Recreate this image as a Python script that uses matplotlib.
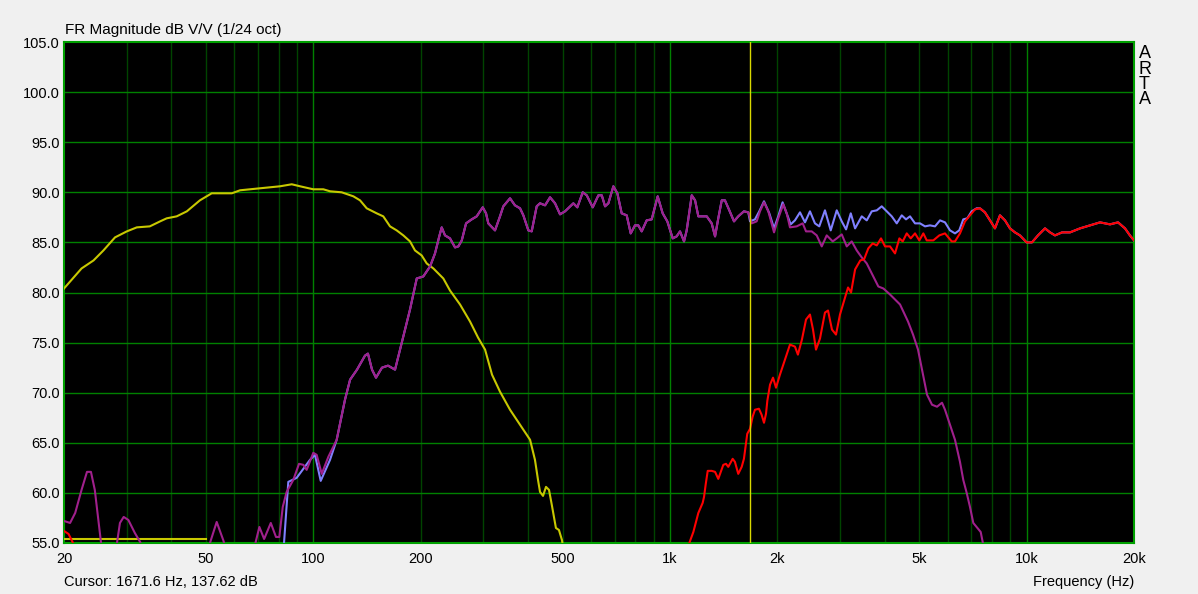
import numpy as np
import matplotlib
matplotlib.use('Agg')
import matplotlib.pyplot as plt

plt.rcParams['font.family'] = ['Liberation Sans', 'DejaVu Sans']

# woofer response (yellow)
woofer_f = [20, 22.4, 24.2, 25.8, 27.8, 30.0, 32.0, 34.8, 37.2, 38.8, 41.4, 44.2, 48.1, 51.9,
            59.1, 62.3, 70.9, 80.7, 87.0, 91.8, 100, 106.7, 111.4, 120.1, 129.5, 135.2, 141.2,
            150.6, 157.1, 164.1, 171.3, 178.8, 186.7, 192.8, 201.3, 208.0, 217.1, 224.2, 231.5,
            241.7, 257.9, 275.1, 289.7, 303.1, 317.0, 333.8, 356.1, 379.9, 405.3, 418.3, 426.6,
            432.2, 440.6, 449.2, 458.0, 466.9, 478.9, 488.3, 497.9, 510]
woofer_db = [80.4, 82.4, 83.2, 84.2, 85.5, 86.1, 86.5, 86.6, 87.1, 87.4, 87.6, 88.1, 89.2, 89.9,
             89.9, 90.2, 90.4, 90.6, 90.8, 90.6, 90.3, 90.3, 90.1, 90.0, 89.6, 89.2, 88.4,
             87.9, 87.6, 86.6, 86.2, 85.7, 85.1, 84.2, 83.7, 82.9, 82.4, 81.9, 81.4,
             80.2, 78.8, 77.1, 75.5, 74.3, 71.8, 70.1, 68.3, 66.8, 65.3, 63.3, 61.3,
             60.1, 59.7, 60.6, 60.3, 58.7, 56.5, 56.3, 55.3, 53.0]
woofer_floor_f = [20, 50]
woofer_floor_db = [55.4, 55.4]

# midrange response (purple)
mid_f = [20.0, 20.8, 21.5, 22.4, 23.2, 23.8, 24.4, 25.5, 26.8, 28.1, 28.7, 29.4, 30.3, 31.6,
         32.7, 34.0, 39.6, 51.1, 53.6, 55.9, 58.5, 62.3, 68.6, 70.6, 72.8, 76.0, 78.6, 80.3,
         82.1, 84.2, 87.9, 91.2, 93.8, 95.8, 100, 102.2, 105.6, 110.2, 116.3, 118.8, 122.7,
         126.8, 132.6, 139.6, 142.3, 146.1, 149.9, 155.8, 162.0, 169.5, 175.1, 180.8, 186.7,
         195.0, 203.4, 212.5, 219.4, 225.5, 229.1, 234.0, 241.7, 249.7, 255.1, 260.8, 268.1,
         278.1, 287.2, 292.1, 298.6, 305.0, 309.5, 323.2, 333.8, 341.0, 356.1, 367.6, 379.9,
         388.1, 400.8, 409.6, 423.0, 432.2, 446.5, 461.1, 476.2, 491.8, 507.9, 535.9, 549.9,
         569.4, 584.3, 607.4, 630.0, 643.9, 657.7, 671.9, 693.9, 712.0, 732.3, 756.4, 776.1,
         797.9, 815.0, 833.1, 860.5, 888.8, 923.8, 954.1, 983.0, 1018, 1044, 1067, 1095, 1114,
         1151, 1176, 1201, 1268, 1309, 1338, 1366, 1397, 1426, 1467, 1512, 1554, 1612, 1658,
         1695, 1750, 1788, 1835, 1887, 1958, 2012, 2078, 2125, 2170, 2266, 2356, 2407, 2497,
         2579, 2664, 2751, 2860, 2935, 3031, 3131, 3233, 3339, 3449, 3562, 3679, 3839, 3966,
         4140, 4417, 4650, 4803, 4960, 5090, 5257, 5429, 5607, 5791, 5904, 6097, 6297, 6503,
         6643, 6791, 6937, 7087, 7320, 7434, 7530, 7895]
mid_db = [57.2, 57.0, 58.0, 60.3, 62.1, 62.1, 60.3, 54.5, 48.0, 54.8, 57.0, 57.6, 57.3, 56.0,
          55.1, 53.5, 45.0, 54.8, 57.1, 55.3, 53.0, 48.0, 54.8, 56.6, 55.4, 57.0, 55.6, 55.6,
          58.6, 60.1, 61.3, 62.9, 62.8, 62.3, 64.0, 63.8, 61.9, 63.6, 65.3, 66.9, 69.3,
          71.3, 72.3, 73.7, 73.9, 72.3, 71.5, 72.5, 72.7, 72.3, 74.3, 76.3, 78.3,
          81.4, 81.6, 82.6, 83.9, 85.6, 86.5, 85.7, 85.4, 84.5, 84.6, 85.2, 86.9,
          87.3, 87.6, 88.0, 88.5, 87.9, 86.9, 86.2, 87.6, 88.6, 89.4, 88.7, 88.4,
          87.7, 86.2, 86.1, 88.6, 88.9, 88.7, 89.5, 88.9, 87.8, 88.1, 88.9, 88.5,
          90.0, 89.7, 88.5, 89.7, 89.7, 88.6, 88.9, 90.6, 89.9, 87.9, 87.7, 85.9,
          86.7, 86.7, 86.1, 87.2, 87.3, 89.6, 87.9, 87.1, 85.4, 85.6, 86.1, 85.1, 86.2,
          89.7, 89.2, 87.6, 87.6, 86.9, 85.6, 87.4, 89.2, 89.2, 88.2, 87.1, 87.6, 88.1, 88.0,
          86.9, 87.1, 88.1, 89.0, 88.1, 86.0, 87.4, 88.8, 87.9, 86.5, 86.6, 86.9, 86.1, 86.1,
          85.7, 84.6, 85.7, 85.1, 85.4, 85.8, 84.6, 85.1, 84.2, 83.5, 82.9, 81.9, 80.6, 80.4,
          79.8, 78.8, 77.1, 75.8, 74.3, 72.3, 69.8, 68.8, 68.6, 69.0, 68.3, 66.8, 65.3, 63.1,
          61.3, 60.0, 58.6, 57.0, 56.4, 56.1, 55.1, 52.0]

# summed response (blue) where it departs from the midrange trace
sum_low_f = [82.4, 85.1, 89.8, 97.9, 101.1, 104.9, 111.4]
sum_low_db = [54.0, 61.1, 61.5, 63.3, 63.8, 61.2, 63.3]
sum_high_f = [1677, 1731, 1780, 1835, 1899, 1958, 2012, 2069, 2133, 2180, 2241, 2315, 2391,
              2469, 2550, 2622, 2720, 2823, 2935, 3031, 3117, 3213, 3304, 3449, 3562, 3679,
              3800, 3924, 4053, 4186, 4323, 4465, 4590, 4710, 4865, 5024, 5189, 5359, 5535,
              5717, 5904, 6097, 6297, 6473, 6643, 6816, 7012, 7241, 7398, 7640, 7895, 8151,
              8419, 8695, 8980, 9274, 9577, 10000, 10350, 10760, 11260, 11630, 12010, 12570,
              13230, 14120, 15060, 16060, 17130, 18040, 18870, 19480, 20000]
sum_high_db = [87.1, 87.3, 88.1, 89.1, 87.9, 86.4, 87.6, 89.0, 87.7, 86.8, 87.2, 88.0, 87.0,
               88.1, 86.9, 86.6, 88.2, 86.2, 88.2, 87.1, 86.3, 87.9, 86.4, 87.6, 87.2, 88.1,
               88.2, 88.6, 88.1, 87.6, 86.9, 87.7, 87.3, 87.6, 86.9, 86.9, 86.6, 86.7, 86.6,
               87.2, 87.0, 86.2, 85.9, 86.2, 87.3, 87.4, 88.1, 88.4, 88.4, 88.0, 87.2, 86.4,
               87.7, 87.2, 86.4, 86.0, 85.7, 85.0, 85.0, 85.7, 86.4, 86.0, 85.7, 86.0,
               86.0, 86.4, 86.7, 87.0, 86.8, 87.0, 86.4, 85.7, 85.2]

# tweeter response (red) below the point where it joins the sum
tweeter_f = [20.0, 20.6, 21.2, 21.6, 1100, 1133, 1163, 1201, 1235, 1246, 1260, 1276, 1309, 1338,
             1366, 1411, 1436, 1457, 1499, 1521, 1554, 1589, 1612, 1633, 1647, 1677, 1705,
             1731, 1776, 1807, 1835, 1859, 1875, 1908, 1945, 1983, 2034, 2101, 2170, 2241,
             2284, 2344, 2407, 2469, 2518, 2567, 2634, 2720, 2774, 2846, 2921, 2997, 3055,
             3157, 3219, 3304, 3417, 3500, 3598, 3702, 3800, 3906, 4008, 4140, 4276, 4397,
             4494, 4612, 4732, 4865, 5002, 5133, 5247, 5475, 5691, 5904, 6164, 6297, 6503,
             6717, 6937, 7164]
tweeter_db = [56.2, 55.9, 55.0, 53.0, 50.0, 55.0, 56.1, 58.0, 59.0, 59.6, 60.9, 62.2, 62.2, 62.1,
              61.4, 62.8, 62.9, 62.6, 63.4, 63.1, 61.9, 62.6, 63.4, 64.9, 65.9, 66.4, 67.6,
              68.3, 68.4, 67.8, 67.0, 67.9, 69.2, 70.8, 71.5, 70.5, 71.8, 73.3, 74.8, 74.6,
              73.8, 75.3, 77.3, 77.8, 76.3, 74.3, 75.4, 78.0, 78.2, 76.3, 75.8, 77.8, 78.8,
              80.5, 80.0, 82.3, 83.2, 83.3, 84.4, 84.9, 84.7, 85.4, 84.6, 84.6, 83.9, 85.4,
              85.1, 85.9, 85.4, 85.9, 85.2, 85.9, 85.2, 85.2, 85.7, 85.9, 85.1, 85.1, 85.9,
              87.1, 87.7, 88.3]

cursor_f = 1671.6
x_labels = ['20', '50', '100', '200', '500', '1k', '2k', '5k', '10k', '20k']
x_label_f = [20, 50, 100, 200, 500, 1000, 2000, 5000, 10000, 20000]
y_ticks = np.arange(55, 105.1, 5)

# build the full summed trace: low part, shared midrange part, high part
mid_f_arr = np.array(mid_f)
mid_db_arr = np.array(mid_db)
shared = (mid_f_arr > 112) & (mid_f_arr < 1670)
sum_f = np.concatenate([sum_low_f, mid_f_arr[shared], sum_high_f])
sum_db = np.concatenate([sum_low_db, mid_db_arr[shared], sum_high_db])

# tweeter joins the summed trace at the top end
sum_high_f_arr = np.array(sum_high_f)
top = sum_high_f_arr >= 7398
tw_f = np.concatenate([tweeter_f, sum_high_f_arr[top]])
tw_db = np.concatenate([tweeter_db, np.array(sum_high_db)[top]])

fig = plt.figure(figsize=(11.98, 5.94), dpi=100, facecolor='#f0f0f0')
ax = fig.add_axes([64 / 1198, 51 / 594, 1070 / 1198, 501 / 594])
ax.set_facecolor('black')
ax.set_xscale('log')
ax.set_xlim(20, 20000)
ax.set_ylim(55, 105)

# grid
for dec in [10, 100, 1000, 10000]:
    for m in range(1, 10):
        f = dec * m
        if f <= 20 or f >= 20000:
            continue
        col = '#008000' if m == 1 else '#004400'
        ax.axvline(f, color=col, lw=1, zorder=1)
for y in y_ticks[1:-1]:
    ax.axhline(y, color='#008000', lw=1, zorder=1)

ax.plot(woofer_floor_f, woofer_floor_db, color='#c8c800', lw=1.5, zorder=3)
ax.plot(woofer_f, woofer_db, color='#c8c800', lw=1.5, zorder=3)
ax.plot(sum_f, sum_db, color='#8080ff', lw=1.5, zorder=4)
ax.plot(mid_f, mid_db, color='#a0208c', lw=1.5, zorder=5)
ax.plot(tw_f, tw_db, color='#ff0000', lw=1.5, zorder=6)
ax.axvline(cursor_f, color='#d8d800', lw=1, zorder=7)

for s in ax.spines.values():
    s.set_color('#00a000')
    s.set_linewidth(1.5)

ax.set_xticks(x_label_f)
ax.set_xticklabels(x_labels)
ax.xaxis.set_minor_locator(matplotlib.ticker.NullLocator())
ax.set_yticks(y_ticks)
ax.set_yticklabels(['%.1f' % v for v in y_ticks])
ax.tick_params(axis='both', length=0, labelsize=10.5, colors='black')
ax.tick_params(axis='x', pad=6.5)
ax.tick_params(axis='y', pad=3)

fig.text(65 / 1198, 1 - 30 / 594, 'FR Magnitude dB V/V (1/24 oct)', fontsize=11, va='center', ha='left')
fig.text(64 / 1198, 1 - 582 / 594, 'Cursor: 1671.6 Hz, 137.62 dB', fontsize=10.5, va='center', ha='left')
fig.text(1134 / 1198, 1 - 582 / 594, 'Frequency (Hz)', fontsize=10.5, va='center', ha='right')
for i, ch in enumerate('ARTA'):
    fig.text(1144.5 / 1198, 1 - (53.5 + 15.5 * i) / 594, ch, fontsize=13, va='center', ha='center')

fig.savefig('out.png', dpi=100, facecolor=fig.get_facecolor())
